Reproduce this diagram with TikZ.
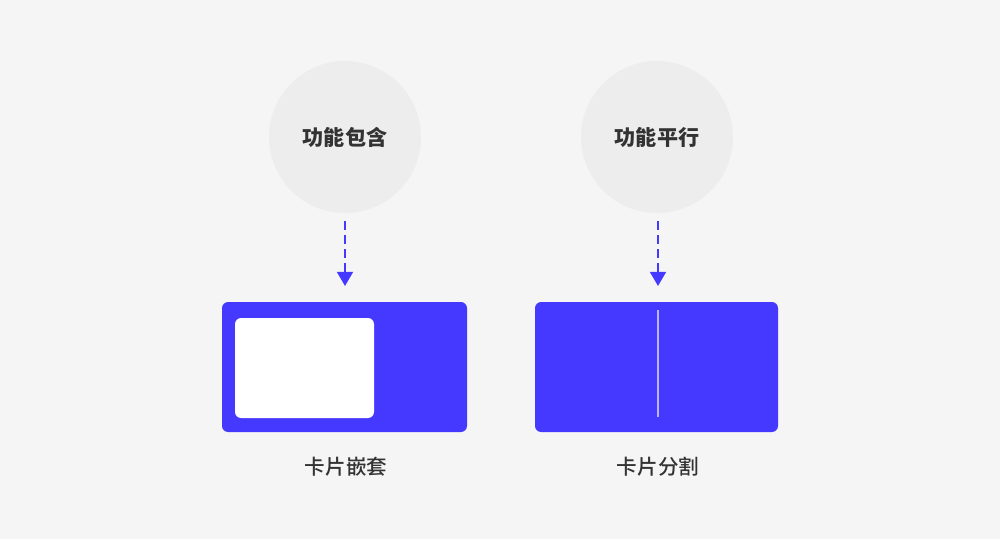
\documentclass[tikz,border=0pt]{standalone}
\usepackage{fontspec}
\newfontfamily\cjk{Noto Sans CJK SC Medium}
\newfontfamily\cjkb{Noto Sans CJK SC Black}
\usetikzlibrary{arrows.meta}
\definecolor{bg}{HTML}{F5F5F5}
\definecolor{circ}{HTML}{EDEDED}
\definecolor{blu}{HTML}{4639FF}
\definecolor{txt}{HTML}{333333}
\definecolor{divl}{HTML}{B9B4FF}
\tikzset{
  bubble/.style={circle, fill=circ, minimum size=152*0.02cm, inner sep=0pt, text=txt, font=\cjkb\fontsize{12}{14}\selectfont},
  card/.style={fill=blu, rounded corners=3.5pt},
  inner/.style={fill=white, rounded corners=3.5pt},
  flow/.style={blu, line width=1.1pt, dash pattern=on 5pt off 3pt, -{Triangle[length=8pt,width=9pt]}},
  caption/.style={text=txt, font=\cjk\fontsize{11.7}{14}\selectfont, inner sep=0pt}
}
\begin{document}
\begin{tikzpicture}[x=0.02cm,y=-0.02cm]
\fill[bg] (0,0) rectangle (1000,539);
\useasboundingbox (0,0) rectangle (1000,539);
\node[bubble] (c1) at (345,137) {功能包含};
\node[bubble] (c2) at (657,137) {功能平行};
\coordinate (a1s) at (345,221);
\coordinate (a1e) at (345,286);
\coordinate (a2s) at (658,221);
\coordinate (a2e) at (658,286);
\draw[flow] (a1s) -- (a1e);
\draw[flow] (a2s) -- (a2e);
\fill[card] (222,302) rectangle (467,432);
\fill[inner] (235,318) rectangle (374,418);
\fill[card] (535,302) rectangle (778,432);
\draw[divl, line width=0.9pt] (658,310) -- (658,417);
\node[caption] (l1) at (346,467) {卡片嵌套};
\node[caption] (l2) at (658,467) {卡片分割};
\end{tikzpicture}
\end{document}
